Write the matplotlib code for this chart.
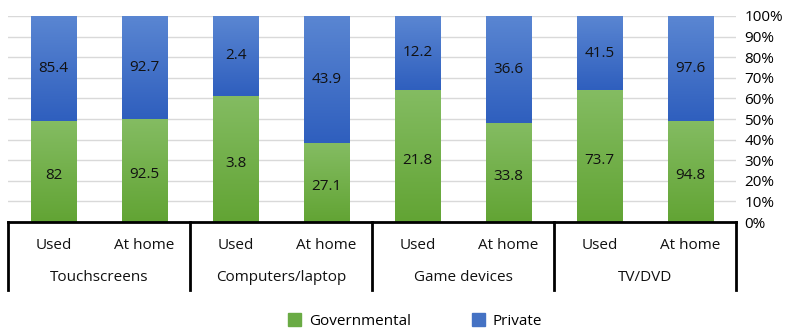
import numpy as np
import matplotlib
matplotlib.use('Agg')
from matplotlib import pyplot as plt
from matplotlib.colors import LinearSegmentedColormap
from matplotlib.patches import Patch

plt.rcParams['font.family'] = ['Open Sans', 'DejaVu Sans']

groups = ['Touchscreens', 'Computers/laptop', 'Game devices', 'TV/DVD']
sub_labels = ['Used', 'At home']
governmental = [82, 92.5, 3.8, 27.1, 21.8, 33.8, 73.7, 94.8]
private = [85.4, 92.7, 2.4, 43.9, 12.2, 36.6, 41.5, 97.6]
ticks = np.arange(0, 1.01, 0.1)

gov = np.array(governmental)
priv = np.array(private)
total = gov + priv
gov_share = gov / total
priv_share = priv / total
x = np.arange(len(gov))

green_cmap = LinearSegmentedColormap.from_list('g', ['#62a434', '#84bc62'])
blue_cmap = LinearSegmentedColormap.from_list('b', ['#2f5fbe', '#5a86d2'])

fs = 11

fig = plt.figure(figsize=(7.88, 3.32), dpi=100)
ax = fig.add_axes([0.0102, 0.331, 0.924, 0.621])

bar_w = 0.5
grad = np.linspace(0, 1, 100).reshape(-1, 1)


def gradient_bar(ax, xc, bottom, height, cmap):
    # bar drawn invisibly, then filled with a vertical gradient clipped to it
    bar = ax.bar(xc, height, bar_w, bottom=bottom, color='none', zorder=2)[0]
    im = ax.imshow(grad, cmap=cmap, origin='lower', aspect='auto', zorder=2,
                   extent=[xc - bar_w / 2, xc + bar_w / 2, bottom, bottom + height])
    im.set_clip_path(bar)


for i in x:
    gradient_bar(ax, i, 0, gov_share[i], green_cmap)
    gradient_bar(ax, i, gov_share[i], priv_share[i], blue_cmap)
    ax.text(i, gov_share[i] / 2 - 0.02, f'{governmental[i]:g}', ha='center', va='center',
            fontsize=fs, color='#111111', zorder=3)
    ax.text(i, gov_share[i] + priv_share[i] / 2, f'{private[i]:g}', ha='center', va='center',
            fontsize=fs, color='#111111', zorder=3)

ax.set_xlim(-0.5, len(x) - 0.5)
ax.set_ylim(0, 1)
ax.yaxis.tick_right()
ax.set_yticks(ticks)
ax.set_yticklabels([f'{int(round(t * 100))}%' for t in ticks], fontsize=fs)
ax.tick_params(axis='y', length=0, pad=6)
ax.set_xticks([])
ax.grid(axis='y', color='#d9d9d9', linewidth=1, zorder=0)
ax.set_axisbelow(True)
for s in ax.spines.values():
    s.set_visible(False)

# multi-level category axis
tr = ax.get_xaxis_transform()
ax.plot([-0.5, len(x) - 0.5], [0, 0], color='black', lw=2, transform=tr, clip_on=False, zorder=4)
for b in np.arange(-0.5, len(x), 2):
    ax.plot([b, b], [0, -0.33], color='black', lw=2, transform=tr, clip_on=False, zorder=4)
for i in x:
    ax.text(i, -0.112, sub_labels[i % 2], ha='center', va='center', fontsize=fs,
            transform=tr, color='#111111')
for g, name in enumerate(groups):
    ax.text(2 * g + 0.5, -0.27, name, ha='center', va='center', fontsize=fs,
            transform=tr, color='#111111')

handles = [Patch(color='#6aab45', label='Governmental'), Patch(color='#4472c4', label='Private')]
fig.legend(handles=handles, loc='center', bbox_to_anchor=(0.527, 0.033), ncol=2, frameon=False,
           fontsize=fs, handlelength=0.85, handleheight=0.85, columnspacing=4.0, handletextpad=0.5)

fig.savefig('out.png', dpi=100)
